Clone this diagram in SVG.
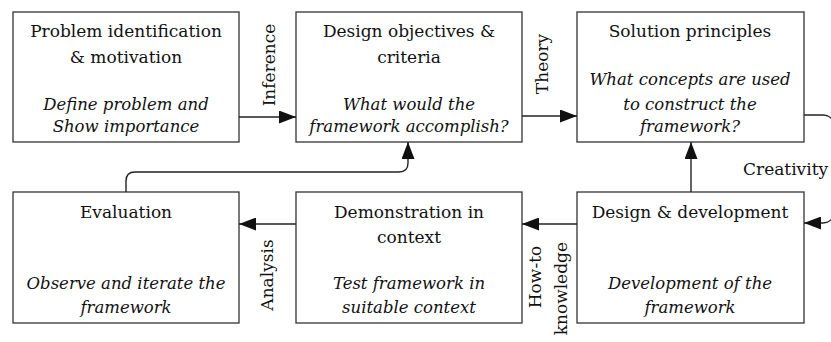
<svg xmlns="http://www.w3.org/2000/svg" width="831" height="342" viewBox="0 0 831 342">
<style>
.box{fill:#fff;stroke:#333;stroke-width:1.3}
text{font-family:"DejaVu Serif","Liberation Serif",serif;font-size:17px;fill:#111}
.c{text-anchor:middle}
.i{font-style:italic;font-size:16.5px}
.ln{fill:none;stroke:#222;stroke-width:1.4}
</style>
<defs>
<marker id="ah" viewBox="0 0 17 13" refX="17" refY="6.5" markerWidth="17" markerHeight="13" markerUnits="userSpaceOnUse" orient="auto">
<path d="M0,0 L17,6.5 L0,13 z" fill="#111"/>
</marker>
</defs>
<rect width="831" height="342" fill="#fff"/>
<g id="n1">
<rect class="box" x="13" y="12" width="226" height="130"/>
<text class="c" x="126" y="37">Problem identification</text>
<text class="c" x="126" y="63">&amp; motivation</text>
<text class="c i" x="126" y="110">Define problem and</text>
<text class="c i" x="126" y="132">Show importance</text>
</g>
<g id="n2">
<rect class="box" x="296" y="12" width="226" height="130"/>
<text class="c" x="409" y="37">Design objectives &amp;</text>
<text class="c" x="409" y="63">criteria</text>
<text class="c i" x="409" y="110">What would the</text>
<text class="c i" x="409" y="132">framework accomplish?</text>
</g>
<g id="n3">
<rect class="box" x="577" y="12" width="227" height="130"/>
<text class="c" x="690" y="37">Solution principles</text>
<text class="c i" x="690" y="85">What concepts are used</text>
<text class="c i" x="690" y="110">to construct the</text>
<text class="c i" x="690" y="132">framework?</text>
</g>
<g id="n4">
<rect class="box" x="577" y="192" width="227" height="131"/>
<text class="c" x="690" y="218">Design &amp; development</text>
<text class="c i" x="690" y="289">Development of the</text>
<text class="c i" x="690" y="313">framework</text>
</g>
<g id="n5">
<rect class="box" x="296" y="192" width="226" height="131"/>
<text class="c" x="409" y="218">Demonstration in</text>
<text class="c" x="409" y="243">context</text>
<text class="c i" x="409" y="289">Test framework in</text>
<text class="c i" x="409" y="313">suitable context</text>
</g>
<g id="n6">
<rect class="box" x="13" y="192" width="226" height="131"/>
<text class="c" x="126" y="218">Evaluation</text>
<text class="c i" x="126" y="289">Observe and iterate the</text>
<text class="c i" x="126" y="313">framework</text>
</g>
<g id="connectors">
<path class="ln" d="M239,117 H296" marker-end="url(#ah)"/>
<path class="ln" d="M522,116 H577" marker-end="url(#ah)"/>
<path class="ln" d="M691,192 V142" marker-end="url(#ah)"/>
<path class="ln" d="M577,224 H522" marker-end="url(#ah)"/>
<path class="ln" d="M296,224 H239" marker-end="url(#ah)"/>
<path class="ln" d="M126,192 V181 Q126,172 135,172 H399 Q408,172 408,163 V142" marker-end="url(#ah)"/>
<path class="ln" d="M804,115 H823 A12,12 0 0 1 835,127 V211 A12,12 0 0 1 823,223 H804" marker-end="url(#ah)"/>
<text class="c" transform="translate(275,65) rotate(-90)">Inference</text>
<text class="c" transform="translate(548,64) rotate(-90)">Theory</text>
<text class="c" transform="translate(273,275) rotate(-90)">Analysis</text>
<text class="c" transform="translate(541,277) rotate(-90)">How-to</text>
<text transform="translate(567,242) rotate(-90)" text-anchor="end">knowledge</text>
<text x="743" y="175">Creativity</text>
</g>
</svg>
